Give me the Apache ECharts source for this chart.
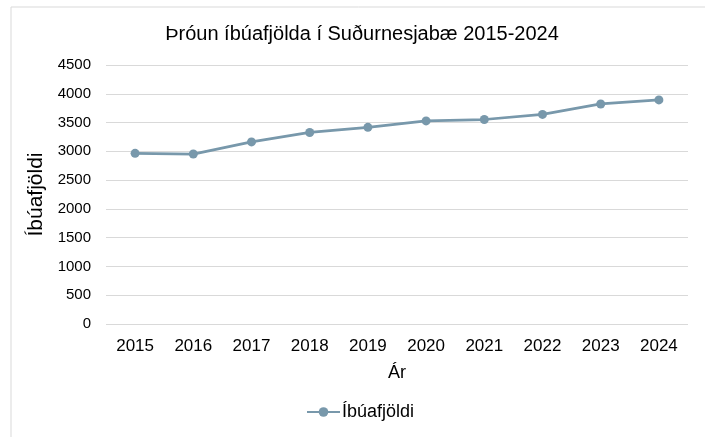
<!DOCTYPE html>
<html>
<head>
<meta charset="utf-8">
<script src="https://cdn.jsdelivr.net/npm/echarts@6/dist/echarts.min.js"></script>
<style>
  html, body { margin: 0; padding: 0; background: #fff; }
  #chart { width: 705px; height: 437px; }
</style>
</head>
<body>
<div id="chart"></div>
<script>
// gögn
var years = ["2015", "2016", "2017", "2018", "2019", "2020", "2021", "2022", "2023", "2024"];
var population = [2965, 2953, 3164, 3328, 3417, 3529, 3553, 3641, 3823, 3894];
var seriesName = "Íbúafjöldi";

var FONT = "Liberation Sans, Arial, sans-serif";
var LINE = "#7898ab";

var chart = echarts.init(document.getElementById("chart"));
chart.setOption({
  backgroundColor: "#fff",
  animation: false,
  title: {
    text: "Þróun íbúafjölda í Suðurnesjabæ 2015-2024",
    left: 357, top: 19, textAlign: "center",
    textStyle: { fontFamily: FONT, fontSize: 20, fontWeight: "normal", color: "#000" }
  },
  graphic: [{
    type: "rect", silent: true,
    shape: { x: 11, y: 7, width: 720, height: 460 },
    style: { fill: "none", stroke: "#d9d9d9", lineWidth: 1 }
  }],
  legend: {
    data: [seriesName],
    left: 306, top: 403, padding: 0, itemWidth: 33, itemHeight: 12, itemGap: 4,
    textStyle: { fontFamily: FONT, fontSize: 18, color: "#000", padding: [0, 0, 0, -3] }
  },
  grid: { left: 106, right: 17, top: 65, bottom: 113 },
  xAxis: {
    type: "category", data: years, boundaryGap: true,
    name: "Ár", nameLocation: "middle", nameGap: 40,
    nameTextStyle: { fontFamily: FONT, fontSize: 18, color: "#000" },
    axisLine: { show: false }, axisTick: { show: false },
    axisLabel: { fontFamily: FONT, fontSize: 17, color: "#000", margin: 14 }
  },
  yAxis: {
    type: "value", min: 0, max: 4500, interval: 500,
    name: "Íbúafjöldi", nameLocation: "middle", nameGap: 38, nameRotate: 90,
    nameTextStyle: { fontFamily: FONT, fontSize: 21, color: "#000" },
    axisLine: { show: false }, axisTick: { show: false },
    axisLabel: {
      fontFamily: FONT, fontSize: 15, color: "#000", margin: 15,
      formatter: function (v) { return String(v); }
    },
    splitLine: { lineStyle: { color: "#d9d9d9", width: 1 } }
  },
  series: [{
    name: seriesName, type: "line", data: population,
    symbol: "circle", symbolSize: 9,
    lineStyle: { color: LINE, width: 2.75 },
    itemStyle: { color: LINE }
  }]
});
</script>
</body>
</html>
